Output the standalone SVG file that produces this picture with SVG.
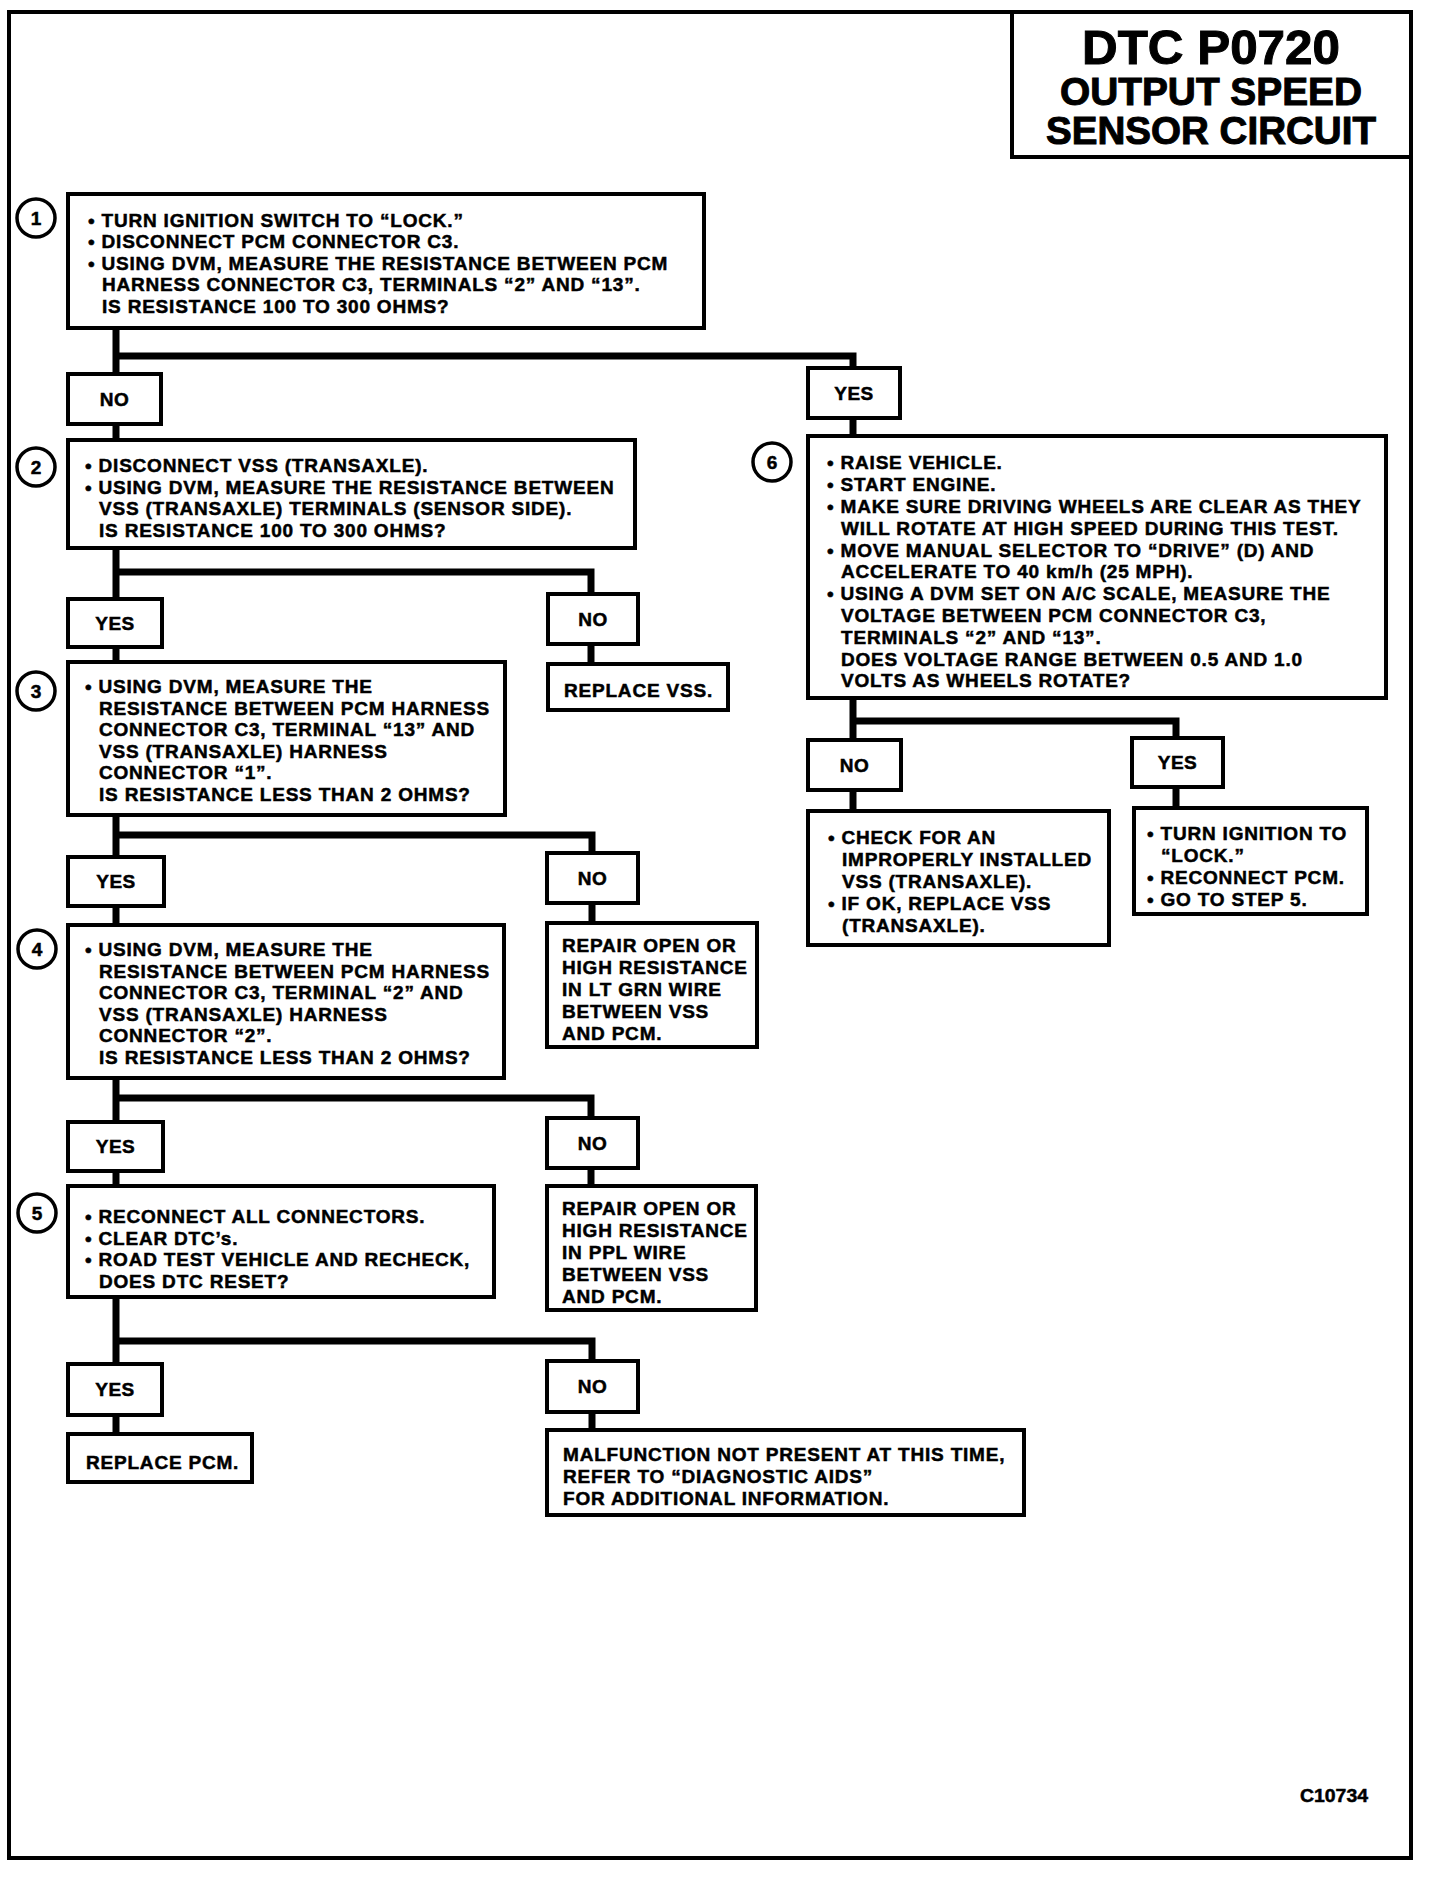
<svg xmlns="http://www.w3.org/2000/svg" width="1440" height="1884" viewBox="0 0 1440 1884">
<style>
.bg{fill:#fff}
.frame{fill:none;stroke:#000;stroke-width:4}
.box{fill:#fff;stroke:#000;stroke-width:4}
.conn{fill:none;stroke:#000;stroke-width:7;stroke-linejoin:miter;stroke-linecap:butt}
.num{fill:#fff;stroke:#000;stroke-width:3.5}
text{font-family:"Liberation Sans",Arial,Helvetica,sans-serif;font-weight:bold;fill:#000;stroke:#000;stroke-width:0.5}
.t{font-size:19px;letter-spacing:0.8px}
.lbl{font-size:19px;letter-spacing:0.5px;text-anchor:middle}
.n{font-size:19px;text-anchor:middle}
.title{text-anchor:middle;stroke-width:1}
</style>
<rect class="bg" x="0" y="0" width="1440" height="1884"/>
<rect class="frame" x="9" y="12" width="1402" height="1846"/>

<g id="title">
<rect class="frame" x="1012" y="12" width="399" height="145"/>
<text class="title" x="1211" y="64" font-size="49" textLength="258" lengthAdjust="spacingAndGlyphs">DTC P0720</text>
<text class="title" x="1211" y="104.5" font-size="38" textLength="302" lengthAdjust="spacingAndGlyphs">OUTPUT SPEED</text>
<text class="title" x="1211" y="143.5" font-size="38" textLength="330" lengthAdjust="spacingAndGlyphs">SENSOR CIRCUIT</text>
</g>

<g id="connectors">
<path class="conn" d="M116,328 V374 M116,356 H853 V368"/>
<path class="conn" d="M116,424 V440"/>
<path class="conn" d="M853,418 V435"/>
<path class="conn" d="M116,548 V599 M116,572 H591 V594"/>
<path class="conn" d="M591,644 V664"/>
<path class="conn" d="M116,647 V662"/>
<path class="conn" d="M116,815 V857 M116,835 H592 V853"/>
<path class="conn" d="M592,903 V923"/>
<path class="conn" d="M116,906 V925"/>
<path class="conn" d="M116,1078 V1122 M116,1098 H591 V1118"/>
<path class="conn" d="M591,1168 V1186"/>
<path class="conn" d="M116,1171 V1186"/>
<path class="conn" d="M116,1297 V1364 M116,1341 H592 V1361"/>
<path class="conn" d="M116,1415 V1434"/>
<path class="conn" d="M592,1412 V1430"/>
<path class="conn" d="M853,698 V740 M853,721 H1176 V738"/>
<path class="conn" d="M853,790 V811"/>
<path class="conn" d="M1176,787 V808"/>
</g>

<g id="step1">
<circle class="num" cx="36" cy="218" r="19"/>
<text class="n" x="36" y="225">1</text>
<rect class="box" x="68" y="194" width="636" height="134"/>
<text class="t" x="88" y="226.5">• TURN IGNITION SWITCH TO “LOCK.”</text>
<text class="t" x="88" y="248">• DISCONNECT PCM CONNECTOR C3.</text>
<text class="t" x="88" y="269.5">• USING DVM, MEASURE THE RESISTANCE BETWEEN PCM</text>
<text class="t" x="102" y="291">HARNESS CONNECTOR C3, TERMINALS “2” AND “13”.</text>
<text class="t" x="102" y="312.5">IS RESISTANCE 100 TO 300 OHMS?</text>
</g>
<g id="no1"><rect class="box" x="68" y="374" width="93" height="50"/><text class="lbl" x="114.5" y="405.5">NO</text></g>
<g id="yes1"><rect class="box" x="808" y="368" width="92" height="50"/><text class="lbl" x="854" y="399.5">YES</text></g>

<g id="step2">
<circle class="num" cx="36" cy="467" r="19"/>
<text class="n" x="36" y="474">2</text>
<rect class="box" x="68" y="440" width="567" height="108"/>
<text class="t" x="85" y="472">• DISCONNECT VSS (TRANSAXLE).</text>
<text class="t" x="85" y="493.5">• USING DVM, MEASURE THE RESISTANCE BETWEEN</text>
<text class="t" x="99" y="515">VSS (TRANSAXLE) TERMINALS (SENSOR SIDE).</text>
<text class="t" x="99" y="536.5">IS RESISTANCE 100 TO 300 OHMS?</text>
</g>
<g id="yes2"><rect class="box" x="68" y="599" width="94" height="48"/><text class="lbl" x="115" y="629.5">YES</text></g>
<g id="no2"><rect class="box" x="548" y="594" width="90" height="50"/><text class="lbl" x="593" y="625.5">NO</text></g>
<g id="replace-vss"><rect class="box" x="548" y="664" width="180" height="46"/><text class="t" x="564" y="697">REPLACE VSS.</text></g>

<g id="step3">
<circle class="num" cx="36" cy="691" r="19"/>
<text class="n" x="36" y="698">3</text>
<rect class="box" x="68" y="662" width="437" height="153"/>
<text class="t" x="85" y="693">• USING DVM, MEASURE THE</text>
<text class="t" x="99" y="714.5">RESISTANCE BETWEEN PCM HARNESS</text>
<text class="t" x="99" y="736">CONNECTOR C3, TERMINAL “13” AND</text>
<text class="t" x="99" y="757.5">VSS (TRANSAXLE) HARNESS</text>
<text class="t" x="99" y="779">CONNECTOR “1”.</text>
<text class="t" x="99" y="800.5">IS RESISTANCE LESS THAN 2 OHMS?</text>
</g>
<g id="yes3"><rect class="box" x="68" y="857" width="96" height="49"/><text class="lbl" x="116" y="888">YES</text></g>
<g id="no3"><rect class="box" x="547" y="853" width="91" height="50"/><text class="lbl" x="592.5" y="884.5">NO</text></g>
<g id="repair-ltgrn">
<rect class="box" x="547" y="923" width="210" height="124"/>
<text class="t" x="562" y="952">REPAIR OPEN OR</text>
<text class="t" x="562" y="974">HIGH RESISTANCE</text>
<text class="t" x="562" y="996">IN LT GRN WIRE</text>
<text class="t" x="562" y="1018">BETWEEN VSS</text>
<text class="t" x="562" y="1040">AND PCM.</text>
</g>

<g id="step4">
<circle class="num" cx="37" cy="949" r="19"/>
<text class="n" x="37" y="956">4</text>
<rect class="box" x="68" y="925" width="436" height="153"/>
<text class="t" x="85" y="956">• USING DVM, MEASURE THE</text>
<text class="t" x="99" y="977.5">RESISTANCE BETWEEN PCM HARNESS</text>
<text class="t" x="99" y="999">CONNECTOR C3, TERMINAL “2” AND</text>
<text class="t" x="99" y="1020.5">VSS (TRANSAXLE) HARNESS</text>
<text class="t" x="99" y="1042">CONNECTOR “2”.</text>
<text class="t" x="99" y="1063.5">IS RESISTANCE LESS THAN 2 OHMS?</text>
</g>
<g id="yes4"><rect class="box" x="68" y="1122" width="95" height="49"/><text class="lbl" x="115.5" y="1153">YES</text></g>
<g id="no4"><rect class="box" x="547" y="1118" width="91" height="50"/><text class="lbl" x="592.5" y="1149.5">NO</text></g>
<g id="repair-ppl">
<rect class="box" x="547" y="1186" width="209" height="124"/>
<text class="t" x="562" y="1215">REPAIR OPEN OR</text>
<text class="t" x="562" y="1237">HIGH RESISTANCE</text>
<text class="t" x="562" y="1259">IN PPL WIRE</text>
<text class="t" x="562" y="1281">BETWEEN VSS</text>
<text class="t" x="562" y="1303">AND PCM.</text>
</g>

<g id="step5">
<circle class="num" cx="37" cy="1213" r="19"/>
<text class="n" x="37" y="1220">5</text>
<rect class="box" x="68" y="1186" width="426" height="111"/>
<text class="t" x="85" y="1223">• RECONNECT ALL CONNECTORS.</text>
<text class="t" x="85" y="1244.5">• CLEAR DTC’s.</text>
<text class="t" x="85" y="1266">• ROAD TEST VEHICLE AND RECHECK,</text>
<text class="t" x="99" y="1287.5">DOES DTC RESET?</text>
</g>
<g id="yes5"><rect class="box" x="68" y="1364" width="94" height="51"/><text class="lbl" x="115" y="1396">YES</text></g>
<g id="no5"><rect class="box" x="547" y="1361" width="91" height="51"/><text class="lbl" x="592.5" y="1393">NO</text></g>
<g id="replace-pcm"><rect class="box" x="68" y="1434" width="184" height="48"/><text class="t" x="86" y="1469">REPLACE PCM.</text></g>
<g id="malfunction">
<rect class="box" x="547" y="1430" width="477" height="85"/>
<text class="t" x="563" y="1461">MALFUNCTION NOT PRESENT AT THIS TIME,</text>
<text class="t" x="563" y="1483">REFER TO “DIAGNOSTIC AIDS”</text>
<text class="t" x="563" y="1505">FOR ADDITIONAL INFORMATION.</text>
</g>

<g id="step6">
<circle class="num" cx="772" cy="462" r="19"/>
<text class="n" x="772" y="469">6</text>
<rect class="box" x="808" y="436" width="578" height="262"/>
<text class="t" x="827" y="469.4">• RAISE VEHICLE.</text>
<text class="t" x="827" y="491.2">• START ENGINE.</text>
<text class="t" x="827" y="513">• MAKE SURE DRIVING WHEELS ARE CLEAR AS THEY</text>
<text class="t" x="841" y="534.8">WILL ROTATE AT HIGH SPEED DURING THIS TEST.</text>
<text class="t" x="827" y="556.6">• MOVE MANUAL SELECTOR TO “DRIVE” (D) AND</text>
<text class="t" x="841" y="578.4">ACCELERATE TO 40 km/h (25 MPH).</text>
<text class="t" x="827" y="600.2">• USING A DVM SET ON A/C SCALE, MEASURE THE</text>
<text class="t" x="841" y="622">VOLTAGE BETWEEN PCM CONNECTOR C3,</text>
<text class="t" x="841" y="643.8">TERMINALS “2” AND “13”.</text>
<text class="t" x="841" y="665.6">DOES VOLTAGE RANGE BETWEEN 0.5 AND 1.0</text>
<text class="t" x="841" y="687.4">VOLTS AS WHEELS ROTATE?</text>
</g>
<g id="no6"><rect class="box" x="808" y="740" width="93" height="50"/><text class="lbl" x="854.5" y="771.5">NO</text></g>
<g id="yes6"><rect class="box" x="1132" y="738" width="91" height="49"/><text class="lbl" x="1177.5" y="769">YES</text></g>
<g id="check-install">
<rect class="box" x="808" y="811" width="301" height="134"/>
<text class="t" x="828" y="844">• CHECK FOR AN</text>
<text class="t" x="842" y="866">IMPROPERLY INSTALLED</text>
<text class="t" x="842" y="888">VSS (TRANSAXLE).</text>
<text class="t" x="828" y="910">• IF OK, REPLACE VSS</text>
<text class="t" x="842" y="932">(TRANSAXLE).</text>
</g>
<g id="turn-ignition">
<rect class="box" x="1134" y="808" width="233" height="106"/>
<text class="t" x="1147" y="840">• TURN IGNITION TO</text>
<text class="t" x="1161" y="862">“LOCK.”</text>
<text class="t" x="1147" y="884">• RECONNECT PCM.</text>
<text class="t" x="1147" y="906">• GO TO STEP 5.</text>
</g>

<text x="1300" y="1802" font-size="19" textLength="68" lengthAdjust="spacingAndGlyphs">C10734</text>
</svg>
